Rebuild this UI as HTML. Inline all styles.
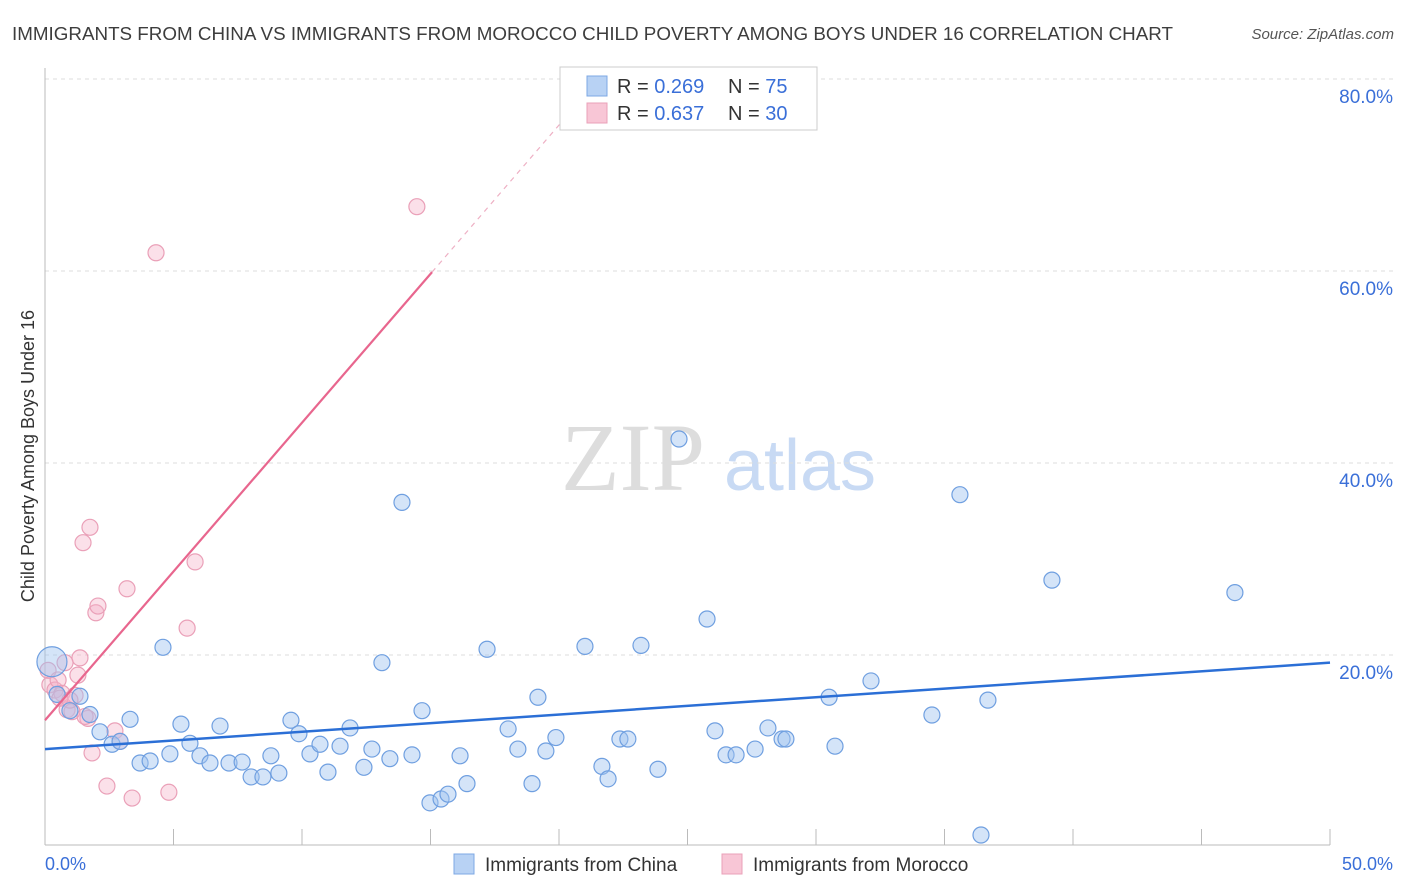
<!DOCTYPE html>
<html><head><meta charset="utf-8"><style>
body{margin:0;background:#fff;font-family:"Liberation Sans",sans-serif;}
#wrap{position:relative;width:1406px;height:892px;overflow:hidden;}
</style></head><body>
<div id="wrap">
<svg id="svg" width="1406" height="892" xmlns="http://www.w3.org/2000/svg">
<text x="12" y="40" font-size="18" fill="#3d3d3d" textLength="1161" lengthAdjust="spacingAndGlyphs">IMMIGRANTS FROM CHINA VS IMMIGRANTS FROM MOROCCO CHILD POVERTY AMONG BOYS UNDER 16 CORRELATION CHART</text>
<text x="1394" y="39" font-size="15" font-style="italic" fill="#555" text-anchor="end">Source: ZipAtlas.com</text>
<text x="633" y="490" font-size="96" font-family="Liberation Serif,serif" fill="#ddd" text-anchor="middle">ZIP</text>
<text x="800" y="490" font-size="72" fill="#c8daf4" text-anchor="middle">atlas</text>
<text transform="translate(34,456) rotate(-90)" font-size="18" fill="#333" text-anchor="middle">Child Poverty Among Boys Under 16</text>
<g id="grid"></g><g id="marks"></g>
<g>
<rect x="560" y="67" width="257" height="63" fill="#fff" stroke="#ccc"/>
<rect x="587" y="76" width="20" height="20" fill="#b8d2f4" stroke="#7ea8e4"/>
<rect x="587" y="103" width="20" height="20" fill="#f8c6d6" stroke="#eaa0b8"/>
<text x="617" y="93" font-size="20" fill="#333">R = <tspan fill="#3a6fd8">0.269</tspan></text>
<text x="728" y="93" font-size="20" fill="#333">N = <tspan fill="#3a6fd8">75</tspan></text>
<text x="617" y="120" font-size="20" fill="#333">R = <tspan fill="#3a6fd8">0.637</tspan></text>
<text x="728" y="120" font-size="20" fill="#333">N = <tspan fill="#3a6fd8">30</tspan></text>
</g>
<g>
<rect x="454" y="854" width="20" height="20" fill="#b8d2f4" stroke="#7ea8e4"/>
<text x="485" y="871" font-size="19" fill="#333">Immigrants from China</text>
<rect x="722" y="854" width="20" height="20" fill="#f8c6d6" stroke="#eaa0b8"/>
<text x="753" y="871" font-size="19" fill="#333">Immigrants from Morocco</text>
</g>
<text x="45" y="870" font-size="18" fill="#3a6fd8">0.0%</text>
<text x="1393" y="870" font-size="18" fill="#3a6fd8" text-anchor="end">50.0%</text>
</svg>
</div>
<script>
const yTicks=[20,40,60,80];
const yTickLabels=["20.0%","40.0%","60.0%","80.0%"];
const xTicks=[0,5,10,15,20,25,30,35,40,45,50];
const chinaX=[0.27,0.47,1.36,0.97,1.75,2.14,3.31,2.61,2.92,3.70,4.09,4.59,4.86,5.29,5.64,6.03,6.42,6.81,7.16,7.67,8.02,8.48,8.79,9.1,9.57,9.88,10.31,10.7,11.01,11.48,11.87,12.41,12.72,13.11,13.42,13.89,14.28,14.67,14.98,15.41,15.68,16.15,16.42,17.2,18.02,18.4,18.95,19.18,19.49,19.88,21.01,21.67,21.91,22.37,22.68,23.19,23.85,24.67,25.76,26.07,26.5,26.89,27.63,28.13,28.68,28.83,30.51,30.74,32.14,34.51,35.6,36.69,36.42,39.18,46.3];
const chinaY=[19.3,15.9,15.7,14.2,13.8,12.0,13.3,10.7,11.0,8.75,8.96,20.8,9.7,12.8,10.8,9.5,8.75,12.6,8.75,8.85,7.3,7.3,9.5,7.7,13.2,11.8,9.7,10.7,7.8,10.5,12.4,8.3,10.2,19.2,9.2,35.9,9.6,14.2,4.6,5.0,5.5,9.5,6.6,20.6,12.3,10.2,6.6,15.6,10.0,11.4,20.9,8.4,7.1,11.25,11.25,21.0,8.1,42.5,23.75,12.1,9.6,9.6,10.2,12.4,11.25,11.25,15.6,10.5,17.3,13.75,36.7,15.3,1.25,27.8,26.5];
const moroccoX=[0.12,0.19,0.39,0.51,0.66,0.86,1.05,1.17,1.28,1.36,1.48,1.67,1.75,1.98,2.06,2.41,2.72,2.92,3.19,3.39,4.32,4.82,5.53,5.84,14.47,0.58,0.78,1.56,1.83,0.97];
const moroccoY=[18.4,16.9,16.35,17.4,16.0,14.3,14.1,15.8,17.9,19.7,31.7,13.4,33.3,24.4,25.1,6.35,12.1,11.0,26.9,5.1,61.9,5.7,22.8,29.7,66.7,15.5,19.2,13.6,9.8,15.3];
const chinaTrend=[10.2,19.2];
const moroccoTrend=[13.2,3.1];
const NS="http://www.w3.org/2000/svg";
const sx=v=>45+v*25.7, sy=v=>847-v*9.6;
function mk(t,a,p){const e=document.createElementNS(NS,t);for(const k in a)e.setAttribute(k,a[k]);p.appendChild(e);return e;}
const grid=document.getElementById('grid'),marks=document.getElementById('marks');
yTicks.forEach((v,i)=>{
 const l=mk('line',{x1:45,x2:1393,y1:sy(v),y2:sy(v),stroke:'#ddd','stroke-dasharray':'4,4'},grid);
 
 
 const t=mk('text',{x:1393,y:sy(v)+24,'font-size':19,fill:'#3a6fd8','text-anchor':'end'},grid);
 t.textContent=yTickLabels[i];
 
 
});
const ax=mk('line',{x1:45,x2:45,y1:68,y2:845,stroke:'#bbb'},grid);


const bx=mk('line',{x1:45,x2:1330,y1:845,y2:845,stroke:'#bbb'},grid);


xTicks.forEach(v=>{
 const t=mk('line',{x1:sx(v),x2:sx(v),y1:845,y2:829,stroke:'#bbb'},grid);
 
 
});
function pts(X,Y,fill,stroke,name){
 X.forEach((x,i)=>{
  const r=(name==='china-point'&&i===0)?15:8;
  const c=mk('circle',{cx:sx(x),cy:sy(Y[i]),r:r,fill:fill,stroke:stroke,'stroke-width':1.2},marks);
  
  
 });
}
pts(moroccoX,moroccoY,'rgba(244,178,200,0.4)','#eaa0b8','morocco-point');
pts(chinaX,chinaY,'rgba(160,196,240,0.45)','#6f9fe0','china-point');
const bl=mk('line',{x1:sx(0),y1:sy(chinaTrend[0]),x2:sx(50),y2:sy(chinaTrend[1]),stroke:'#2b6fd6','stroke-width':2.5},marks);


const xe=15.06, xd=21.5;
const pl=mk('line',{x1:sx(0),y1:sy(moroccoTrend[0]),x2:sx(xe),y2:sy(moroccoTrend[0]+moroccoTrend[1]*xe),stroke:'#e8668e','stroke-width':2.2},marks);


const pd=mk('line',{x1:sx(xe),y1:sy(moroccoTrend[0]+moroccoTrend[1]*xe),x2:sx(xd),y2:sy(moroccoTrend[0]+moroccoTrend[1]*xd),stroke:'#eeb0c4','stroke-width':1.2,'stroke-dasharray':'5,5'},marks);


</script>
</body></html>
